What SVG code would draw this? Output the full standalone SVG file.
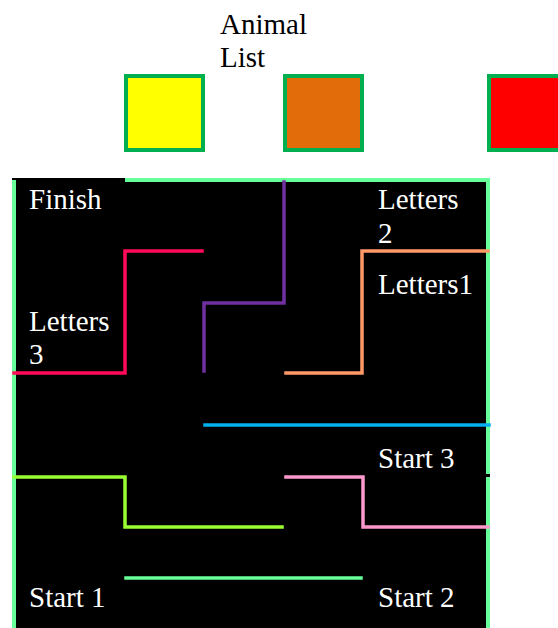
<svg xmlns="http://www.w3.org/2000/svg" width="558" height="628" viewBox="0 0 558 628">
<style>
.t{font-size:29px}
.w{fill:#ffffff}
.k{fill:#000000}
.box{stroke:#00B050;stroke-width:4}
.ln{fill:none;stroke-width:3.5;stroke-linecap:square;stroke-linejoin:miter}
.wall{fill:none;stroke:#66FF99;stroke-width:4}
</style>
<rect width="558" height="628" fill="#ffffff"/>
<g font-family="'Liberation Serif', Tinos, 'Times New Roman', 'DejaVu Serif', serif">
<g id="title"><text class="t k" x="220" y="34">Animal</text><text class="t k" x="220" y="67">List</text></g>
</g>
<g id="box-yellow"><rect class="box" x="126" y="76" width="77" height="74" fill="#FFFF00"/></g>
<g id="box-orange"><rect class="box" x="285" y="76" width="77" height="74" fill="#E36C0A"/></g>
<g id="box-red"><rect class="box" x="489" y="76" width="77" height="74" fill="#FF0000"/></g>
<g id="maze"><rect x="12" y="178" width="478" height="450" fill="#000000"/></g>
<g id="connectors">
<path class="wall" d="M125 180H490"/>
<path class="wall" d="M14 180V628"/>
<path class="wall" d="M488 180V474"/>
<path class="wall" d="M488 477V628"/>
<path class="ln" stroke="#FF0A5A" d="M14 373H125V251H202"/>
<path class="ln" stroke="#7030A0" d="M284 182V303H204V371"/>
<path class="ln" stroke="#FF9966" d="M286 373H362V251H488"/>
<path class="ln" stroke="#00B0F0" d="M205 425H489"/>
<path class="ln" stroke="#99FF33" d="M14 477H125V527H282"/>
<path class="ln" stroke="#FF99CC" d="M286 477H363V527H488"/>
<path class="ln" stroke="#66FF99" stroke-width="2.5" d="M126 578H361"/>
</g>
<g font-family="'Liberation Serif', Tinos, 'Times New Roman', 'DejaVu Serif', serif">
<g id="finish"><text class="t w" x="29" y="209">Finish</text></g>
<g id="letters3"><text class="t w" x="29" y="331">Letters</text><text class="t w" x="29" y="364">3</text></g>
<g id="letters2"><text class="t w" x="378" y="209">Letters</text><text class="t w" x="378" y="243">2</text></g>
<g id="letters1"><text class="t w" x="378" y="294">Letters1</text></g>
<g id="start3"><text class="t w" x="378" y="468">Start 3</text></g>
<g id="start1"><text class="t w" x="29" y="607">Start 1</text></g>
<g id="start2"><text class="t w" x="378" y="607">Start 2</text></g>
</g>
</svg>
